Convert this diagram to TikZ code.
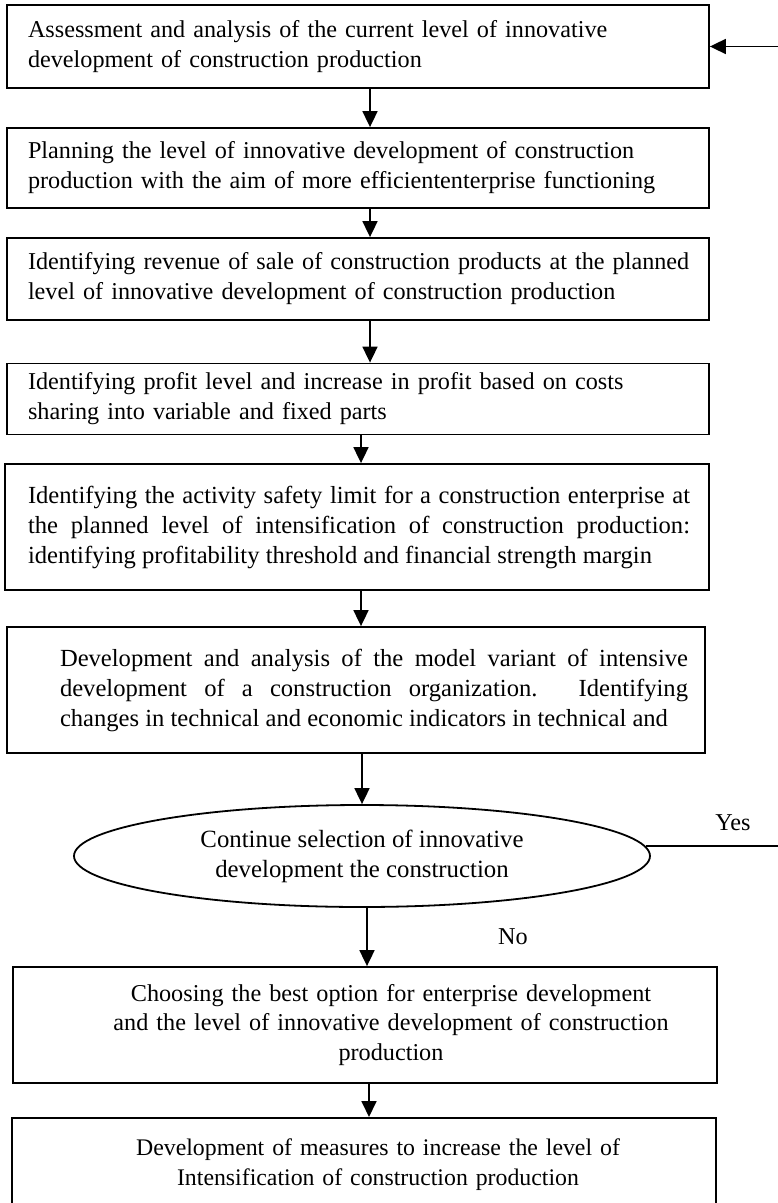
\documentclass[tikz,border=0pt]{standalone}
\usepackage{fontspec}
\setmainfont{Liberation Serif}
\usetikzlibrary{shapes.geometric,arrows.meta}

\begin{document}
\begin{tikzpicture}[x=0.5pt,y=-0.5pt,
        txt/.style={font=\fontsize{#1}{15}\selectfont},
        every node/.style={txt=12.1},
        box/.style={draw,line width=0.9pt,rectangle,inner ysep=2pt},
        leftbox/.style={box,align=left,inner xsep=8.5pt,text width=334pt,minimum width=351pt},
        justbox/.style={box,align=justify},
        midbox/.style={box,align=center,inner xsep=4pt,text width=344pt,minimum width=352pt},
        decision/.style={draw,line width=0.9pt,ellipse,inner sep=0pt,align=center,minimum width=288pt,minimum height=51pt},
        flow/.style={line width=0.9pt,-{Triangle[length=8pt,width=7.5pt]}}]
        \useasboundingbox (0,0) rectangle (777,1203);

        \node[leftbox,minimum height=41.5pt] (assess) at (358,46.5)
        {\hspace*{2pt}Assessment and analysis of the current level of innovative\\ \hspace*{2pt}development of construction production};
        \node[leftbox,minimum height=40pt] (plan) at (358,168)
        {\hspace*{2pt}Planning the level of innovative development of construction\\ \hspace*{2pt}production with the aim of more efficiententerprise functioning};
        \node[leftbox,minimum height=41pt] (revenue) at (358,279)
        {\hspace*{2pt}Identifying revenue of sale of construction products at the planned\\ \hspace*{2pt}level of innovative development of construction production};
        \node[leftbox,minimum height=35.5pt] (profit) at (358,399)
        {\hspace*{2pt}Identifying profit level and increase in profit based on costs\\ \hspace*{2pt}sharing into variable and fixed parts};
        \node[justbox,inner xsep=9.5pt,text width=333pt,minimum height=63pt,txt=12.3] (safety) at (357,527)
        {\hspace*{2pt}Identifying the activity safety limit for a construction enterprise at\linebreak
        \hspace*{2pt}the planned level of intensification of construction production:\linebreak
        \hspace*{2pt}identifying profitability threshold and financial strength margin};
        \node[justbox,inner xsep=8.5pt,text width=332pt,minimum height=63pt,txt=12.3] (model) at (356,690)
        {\parfillskip=0pt \hspace*{18pt}Development and analysis of the model variant of intensive\linebreak
        \hspace*{18pt}development of a construction organization. Identifying\linebreak
        \hspace*{18pt}changes in technical and economic indicators in technical and};
        \node[decision,txt=12.4] (choice) at (362,856)
        {Continue selection of innovative\\ development the construction};
        \node[midbox,minimum height=58pt,font=\fontsize{12.1}{14.75}\selectfont] (best) at (365,1025)
        {\hspace*{26pt}Choosing the best option for enterprise development\\
        \hspace*{26pt}and the level of innovative development of construction\\ \hspace*{26pt}production};
        \node[midbox,anchor=north,inner ysep=10.3pt,text depth=40pt,txt=11.9] (measures) at (364,1117)
        {\hspace*{14pt}Development of measures to increase the level of\\
        \hspace*{14pt}Intensification of construction production};

        \draw[flow] ([xshift=6pt]assess.south) -- ([xshift=6pt]plan.north);
        \draw[flow] ([xshift=6pt]plan.south) -- ([xshift=6pt]revenue.north);
        \draw[flow] ([xshift=6pt]revenue.south) -- ([xshift=6pt]profit.north);
        \draw[flow] ([xshift=1.5pt]profit.south) -- ([xshift=2pt]safety.north);
        \draw[flow] ([xshift=2pt]safety.south) -- ([xshift=2.5pt]model.north);
        \draw[flow] (model.south -| choice.north) -- (choice.north);
        \draw[flow] ([xshift=2.5pt]choice.south) -- ([xshift=2.5pt]choice.south |- best.north);
        \draw[flow] ([xshift=2pt]best.south) -- ([xshift=2.5pt]measures.north);

        % loop back to the first step
        \coordinate (loopt) at (800,46.5);
        \draw[flow] (choice.2) -| (loopt) -- (assess.east);
        \node (yes) at (733,823) {Yes};
        \node (no) at (513,937) {No};
\end{tikzpicture}
\end{document}
